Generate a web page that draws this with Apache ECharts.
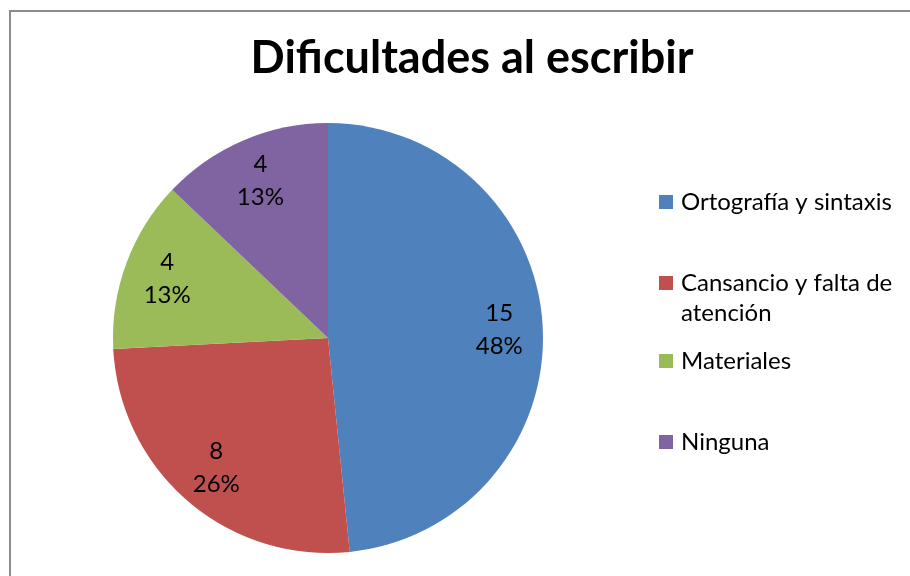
<!DOCTYPE html>
<html>
<head>
<meta charset="utf-8">
<script src="https://cdn.jsdelivr.net/npm/echarts@6/dist/echarts.min.js"></script>
<style>
  html, body { margin: 0; padding: 0; background: #fff; }
  #chart { width: 910px; height: 576px; }
</style>
</head>
<body>
<div id="chart"></div>
<script>
var categories = ['Ortografía y sintaxis', 'Cansancio y falta de atención', 'Materiales', 'Ninguna']
var values = [15, 8, 4, 4]
var colors = ['#4F81BD', '#C0504D', '#9BBB59', '#8064A2']
// legend text as shown (wrapped like in the original)
var legendText = ['Ortografía y sintaxis', '\nCansancio y falta de\natención', 'Materiales', 'Ninguna']
var legendTops = [182, 233, 341, 422]

var chart = echarts.init(document.getElementById('chart'))

var pieData = categories.map(function(name, i) {
  return { name: name, value: values[i], itemStyle: { color: colors[i] } }
})

var legends = categories.map(function(name, i) {
  return {
    left: 654,
    top: legendTops[i],
    orient: 'vertical',
    icon: 'rect',
    itemWidth: 14,
    itemHeight: 14,
    selectedMode: false,
    data: [name],
    formatter: function() { return legendText[i] },
    textStyle: {
      fontFamily: 'Lato',
      fontSize: 24,
      color: '#000',
      lineHeight: 30,
      padding: [0, 0, 0, 3]
    }
  }
})

chart.setOption({
  animation: false,
  backgroundColor: '#fff',
  title: {
    text: 'Dificultades al escribir',
    left: 467,
    textAlign: 'center',
    top: 31,
    textStyle: {
      fontFamily: 'Lato',
      fontWeight: 'bold',
      fontSize: 45,
      color: '#000'
    }
  },
  legend: legends,
  graphic: [{
    type: 'rect',
    shape: { x: 10, y: 11, width: 1000, height: 1000 },
    style: { fill: 'none', stroke: '#8c8c8c', lineWidth: 2 },
    silent: true
  }],
  series: [{
    type: 'pie',
    center: [328, 338],
    radius: 215,
    startAngle: 90,
    clockwise: true,
    silent: true,
    label: { show: false },
    labelLine: { show: false },
    itemStyle: { borderWidth: 0 },
    data: pieData
  }, {
    // transparent ring used only to place the labels further out
    type: 'pie',
    center: [328, 338],
    radius: [122, 215],
    startAngle: 90,
    clockwise: true,
    silent: true,
    percentPrecision: 0,
    itemStyle: { color: 'rgba(0,0,0,0)', borderWidth: 0 },
    label: {
      show: true,
      position: 'inside',
      formatter: '{c}\n{d}%',
      fontFamily: 'Lato',
      fontSize: 24,
      lineHeight: 33,
      color: '#000'
    },
    labelLine: { show: false },
    data: categories.map(function(name, i) {
      return { name: name, value: values[i] }
    })
  }]
})
</script>
</body>
</html>
